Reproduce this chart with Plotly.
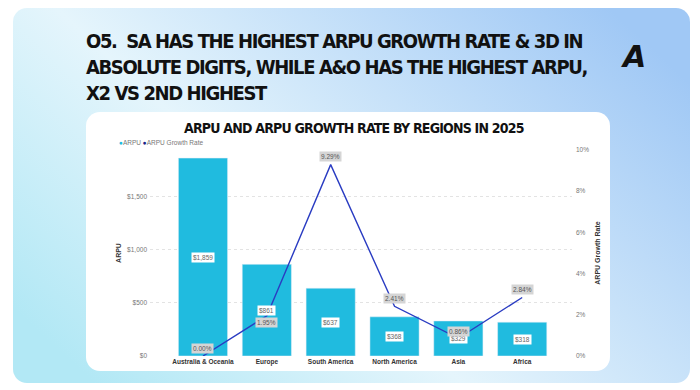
import base64
import plotly.graph_objects as go

# ---- data ----
regions = ["Australia & Oceania", "Europe", "South America", "North America", "Asia", "Africa"]
arpu = [1859, 861, 637, 368, 329, 318]
growth = [0.0000, 0.0195, 0.0929, 0.0241, 0.0086, 0.0284]
arpu_ticks = [0, 500, 1000, 1500]
arpu_tick_labels = ["$0", "$500", "$1,000", "$1,500"]
growth_ticks = [0, 0.02, 0.04, 0.06, 0.08, 0.10]

# ---- layout helpers (pixel -> paper) ----
W, H = 700, 390
L, R, T, B = 150, 572, 150, 356
PW, PH = R - L, B - T


def px(x):
    return (x - L) / PW


def py(y):
    return (B - y) / PH


BAR = "#20bbdf"
LINE = "#2a3cc2"
NAVY = "#1a2488"
TITLE_FONT = "DejaVu Sans, Liberation Sans, sans-serif"
COND = "font-stretch:condensed;letter-spacing:-1.4px"

svg = f"""<svg xmlns='http://www.w3.org/2000/svg' width='{W}' height='{H}' viewBox='0 0 {W} {H}'>
<defs><linearGradient id='g' x1='0' y1='0.8' x2='1' y2='0.2'>
<stop offset='0' stop-color='#b2e8f5'/>
<stop offset='0.4' stop-color='#e5f5fc'/>
<stop offset='1' stop-color='#a0c8f5'/>
</linearGradient></defs>
<rect x='0' y='0' width='{W}' height='{H}' fill='white'/>
<rect x='13' y='8' width='677' height='375' rx='14' fill='url(#g)'/>
<rect x='86' y='112' width='524' height='259' rx='14' fill='white'/>
</svg>"""
src = "data:image/svg+xml;base64," + base64.b64encode(svg.encode()).decode()

fig = go.Figure()
fig.add_trace(go.Bar(x=regions, y=arpu, marker_color=BAR, width=0.77,
                     name="ARPU", showlegend=False, hoverinfo="skip"))
fig.add_trace(go.Scatter(x=regions, y=growth, mode="lines", yaxis="y2",
                         line=dict(color=LINE, width=1.4),
                         name="ARPU Growth Rate", showlegend=False, hoverinfo="skip"))

annotations = []
# bar value labels
for r, v in zip(regions, arpu):
    annotations.append(dict(x=r, y=v / 2, xref="x", yref="y", text=f"${v:,}",
                            showarrow=False, bgcolor="white", borderpad=1,
                            font=dict(size=6.5, color="#666", family="Arial, Liberation Sans")))
# growth labels
shifts = [8, -7, 8, 8, 7, 8]
for r, g, s in zip(regions, growth, shifts):
    annotations.append(dict(x=r, y=g, xref="x", yref="y2", text=f"{g*100:.2f}%",
                            showarrow=False, bgcolor="#d5d5d5", borderpad=1, yshift=s,
                            font=dict(size=6.5, color="#555", family="Arial, Liberation Sans")))
# titles
title_lines = ["O5.  SA HAS THE HIGHEST ARPU GROWTH RATE &amp; 3D IN",
               "ABSOLUTE DIGITS, WHILE A&amp;O HAS THE HIGHEST ARPU,",
               "X2 VS 2ND HIGHEST"]
annotations.append(dict(x=px(84), y=py(27), xref="paper", yref="paper", xanchor="left", yanchor="top",
                        align="left", showarrow=False,
                        text="<br>".join(f"<span style='{COND}'>{t}</span>" for t in title_lines),
                        font=dict(family=TITLE_FONT, size=20, color="#111", weight="bold")))
annotations.append(dict(x=px(354), y=py(128), xref="paper", yref="paper", xanchor="center", yanchor="middle",
                        showarrow=False,
                        text="<span style='font-stretch:condensed;letter-spacing:-0.8px'>ARPU AND ARPU GROWTH RATE BY REGIONS IN 2025</span>",
                        font=dict(family=TITLE_FONT, size=14, color="#111", weight="bold")))
annotations.append(dict(x=px(633), y=py(56), xref="paper", yref="paper", xanchor="center", yanchor="middle",
                        showarrow=False, text="<b><i>A</i></b>",
                        font=dict(family="DejaVu Sans", size=30, color="#111")))
annotations.append(dict(x=px(117), y=py(142), xref="paper", yref="paper", xanchor="left", yanchor="middle",
                        showarrow=False,
                        text=f"<span style='color:{BAR}'>●</span>ARPU <span style='color:{NAVY}'>●</span>ARPU Growth Rate",
                        font=dict(size=6.5, color="#777", family="Arial, Liberation Sans")))

fig.update_layout(
    width=W, height=H,
    margin=dict(l=L, r=W - R, t=T, b=H - B, pad=0),
    paper_bgcolor="white", plot_bgcolor="rgba(0,0,0,0)",
    images=[dict(source=src, xref="paper", yref="paper", x=px(0), y=py(0),
                 sizex=W / PW, sizey=H / PH, sizing="stretch", layer="below",
                 xanchor="left", yanchor="top")],
    annotations=annotations,
    bargap=0.23,
    xaxis=dict(range=[-0.83, 5.78], showgrid=False, showline=False, zeroline=False,
               tickfont=dict(size=6.5, color="#333", family="Arial, Liberation Sans", weight="bold"),
               ticks="", ticklabelstandoff=0),
    yaxis=dict(range=[0, 1935], tickvals=arpu_ticks, ticktext=arpu_tick_labels,
               showgrid=True, gridcolor="#e3e3e3", griddash="dot", gridwidth=1, zeroline=False,
               tickfont=dict(size=6.5, color="#777", family="Arial, Liberation Sans"),
               ticks="", ticklabelstandoff=2,
               title=dict(text="ARPU", standoff=4,
                          font=dict(size=7, color="#333", family="Arial, Liberation Sans", weight="bold"))),
    yaxis2=dict(range=[0, 0.10], tickvals=growth_ticks, tickformat=".0%", overlaying="y", side="right",
                showgrid=False, zeroline=False,
                tickfont=dict(size=6.5, color="#777", family="Arial, Liberation Sans"),
                ticks="", ticklabelstandoff=3,
                title=dict(text="ARPU Growth Rate", standoff=6,
                           font=dict(size=7, color="#333", family="Arial, Liberation Sans", weight="bold"))),
    showlegend=False,
)

fig.write_html("out.html", config={"displayModeBar": False},
               post_script="document.body.style.margin='0';document.body.style.padding='0';"
                           "document.documentElement.style.overflow='hidden';")
